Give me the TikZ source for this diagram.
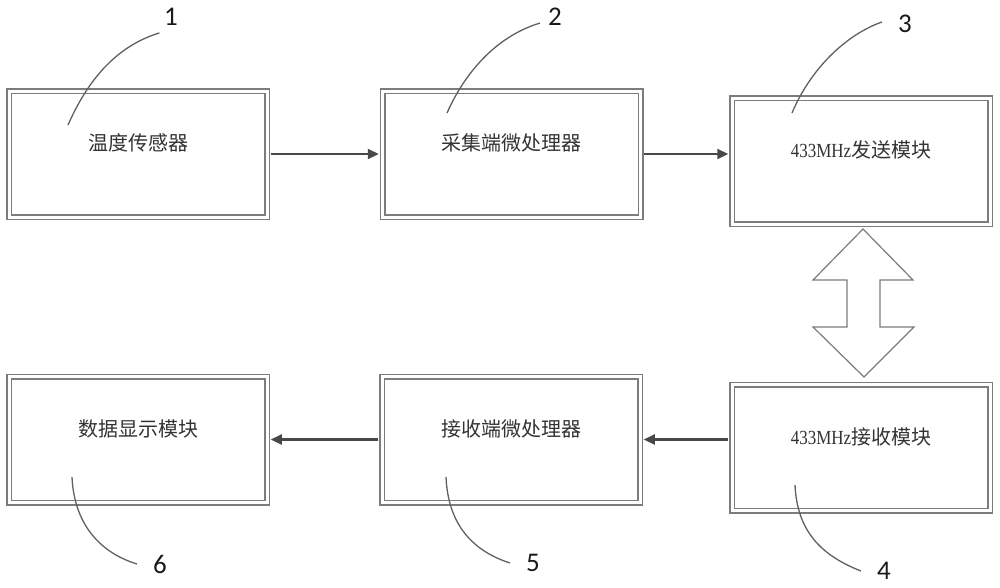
\documentclass[tikz,border=0pt]{standalone}
\usepackage{fontspec}
\usetikzlibrary{arrows.meta}
\newfontfamily\cjk{Noto Sans CJK SC}
\newfontfamily\numfont{Carlito}
\newfontfamily\latinfont[FakeStretch=0.85]{Liberation Serif}
\definecolor{boxgray}{HTML}{7C7C7C}
\definecolor{flowgray}{HTML}{484848}
\definecolor{leadgray}{HTML}{606060}
\definecolor{textgray}{HTML}{333333}
\definecolor{numcolor}{HTML}{1A1A1A}
\begin{document}
\begin{tikzpicture}[x=1pt, y=-1pt,
  modbox/.style={draw=boxgray, line width=1.5pt, double, double distance=3pt,
    minimum width=258pt, minimum height=126pt, inner sep=0pt},
  boxtext/.style={font=\cjk\fontsize{20}{24}\selectfont, text=textgray, yshift=11pt},
  flow/.style={draw=flowgray, line width=2.2pt, -{Triangle[length=11pt,width=10pt]},
    shorten >=3pt, shorten <=3pt},
  numlabel/.style={font=\numfont\fontsize{27}{30}\selectfont, text=numcolor,
    inner xsep=16pt, inner ysep=7pt},
  leader/.style={draw=leadgray, line width=1.3pt}]
  \useasboundingbox (0,0) rectangle (1000,587);

  % Top row: sensor side
  \node[modbox, label={[boxtext]center:温度传感器}] (b1) at (138,154) {};
  \node[modbox, label={[boxtext]center:采集端微处理器}] (b2) at (511.5,154) {};
  \node[modbox, label={[boxtext]center:{\latinfont 433MHz}发送模块}] (b3) at (861,161) {};

  % Bottom row: receiver side
  \node[modbox, label={[boxtext]center:{\latinfont 433MHz}接收模块}] (b4) at (861,447.5) {};
  \node[modbox, label={[boxtext]center:接收端微处理器}] (b5) at (511,439.5) {};
  \node[modbox, label={[boxtext]center:数据显示模块}] (b6) at (138,439.5) {};

  % Signal flow
  \draw[flow] (b1.east) -- (b2.west);
  \draw[flow] (b2.east) -- (b2.east -| b3.west);
  \draw[flow] (b5.east -| b4.west) -- (b5.east);
  \draw[flow] (b5.west) -- (b6.east);

  % Hollow double arrow for the wireless link
  \draw[draw=boxgray, line width=1.2pt, fill=white, line join=miter]
    (863,229) -- (913,280) -- (880,280) -- (880,327) -- (914,327) -- (864,377)
    -- (813,327) -- (847,327) -- (847,280) -- (813,280) -- cycle;

  % Reference numbers
  \node[numlabel] (n1) at (171,17) {1};
  \node[numlabel, inner xsep=8pt] (n2) at (555,17) {2};
  \node[numlabel] (n3) at (905,24) {3};
  \node[numlabel] (n4) at (884,571) {4};
  \node[numlabel] (n5) at (533,563) {5};
  \node[numlabel] (n6) at (160,564) {6};

  % Leader lines (free end inside the box)
  \coordinate (p1) at (68,125);
  \coordinate (p2) at (447,113);
  \coordinate (p3) at (792,113);
  \coordinate (p4) at (795,485);
  \coordinate (p5) at (446,477);
  \coordinate (p6) at (72,477);
  \draw[leader] (p1) .. controls (90,75) and (120,45) .. (n1.234);
  \draw[leader] (p2) .. controls (467,68) and (500,35) .. (n2.202);
  \draw[leader] (p3) .. controls (810,70) and (845,35) .. (n3.175);
  \draw[leader] (p4) .. controls (797,530) and (820,555) .. (n4.west);
  \draw[leader] (p5) .. controls (448,522) and (470,550) .. (n5.west);
  \draw[leader] (p6) .. controls (74,522) and (98,552) .. (n6.west);
\end{tikzpicture}
\end{document}
